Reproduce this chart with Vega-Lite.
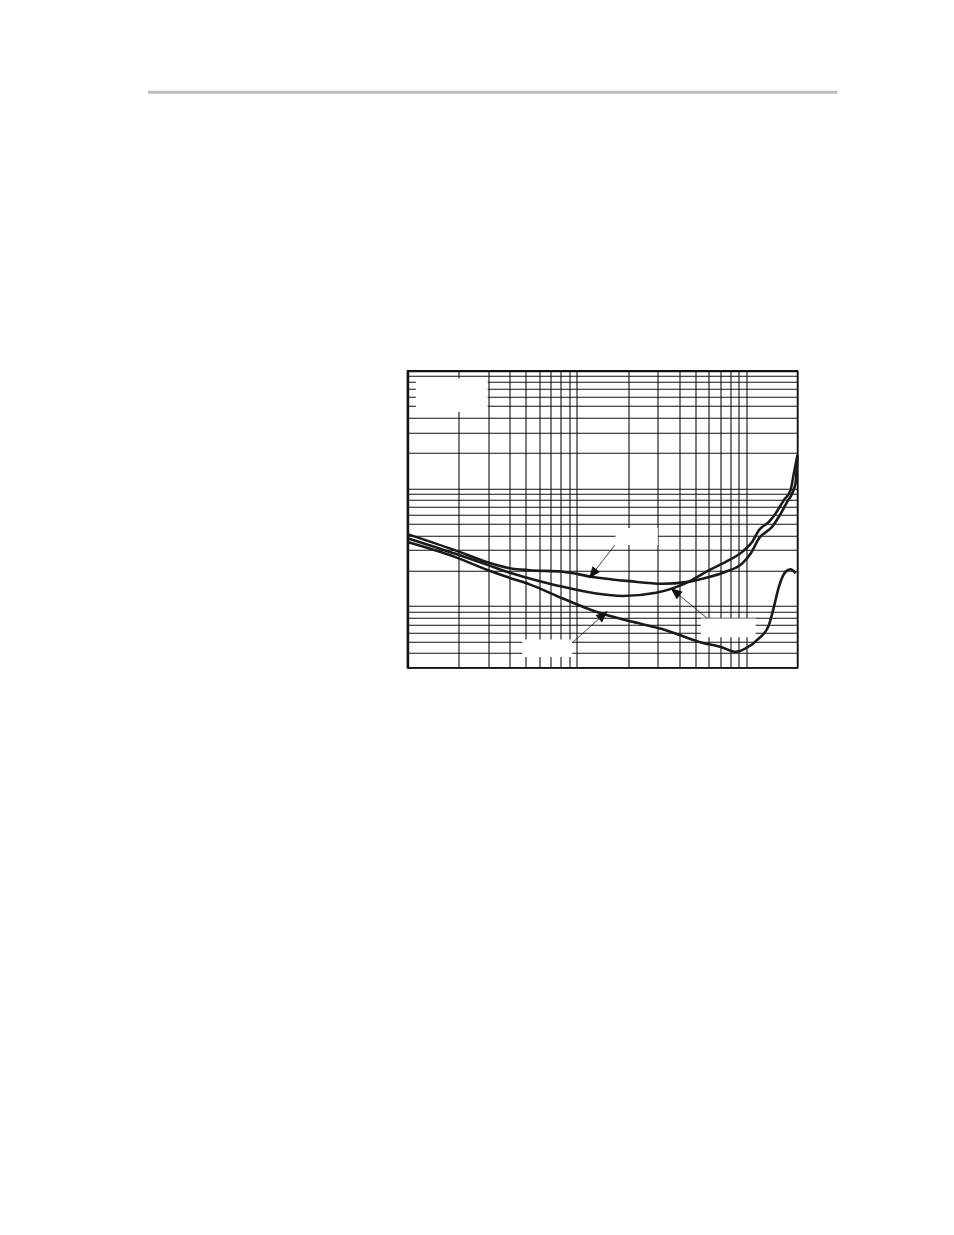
{
  "$schema": "https://vega.github.io/schema/vega-lite/v6.json",
  "autosize": {"type": "none"},
  "padding": {"left": 407.5, "top": 370.7, "right": 156.5, "bottom": 567},
  "width": 390,
  "height": 297,
  "background": "white",
  "view": {"stroke": "#111111", "strokeWidth": 1.5},
  "datasets": {
    "curves": [
      {"s": "A", "f": 100, "v": 0.0409},
      {"s": "A", "f": 190, "v": 0.0299},
      {"s": "A", "f": 299, "v": 0.0235},
      {"s": "A", "f": 410, "v": 0.0209},
      {"s": "A", "f": 525, "v": 0.0202},
      {"s": "A", "f": 825, "v": 0.0196},
      {"s": "A", "f": 1238, "v": 0.0177},
      {"s": "A", "f": 2036, "v": 0.0163},
      {"s": "A", "f": 3200, "v": 0.0155},
      {"s": "A", "f": 4389, "v": 0.0160},
      {"s": "A", "f": 6017, "v": 0.0177},
      {"s": "A", "f": 7543, "v": 0.0196},
      {"s": "A", "f": 9447, "v": 0.0231},
      {"s": "A", "f": 10590, "v": 0.0280},
      {"s": "A", "f": 11840, "v": 0.0376},
      {"s": "A", "f": 14180, "v": 0.0472},
      {"s": "A", "f": 15530, "v": 0.0574},
      {"s": "A", "f": 17380, "v": 0.0769},
      {"s": "A", "f": 18600, "v": 0.0907},
      {"s": "A", "f": 19480, "v": 0.1109},
      {"s": "A", "f": 20000, "v": 0.190},
      {"s": "B", "f": 100, "v": 0.0378},
      {"s": "B", "f": 190, "v": 0.0280},
      {"s": "B", "f": 299, "v": 0.0223},
      {"s": "B", "f": 410, "v": 0.0190},
      {"s": "B", "f": 525, "v": 0.0172},
      {"s": "B", "f": 825, "v": 0.0146},
      {"s": "B", "f": 1297, "v": 0.0128},
      {"s": "B", "f": 1860, "v": 0.0122},
      {"s": "B", "f": 2924, "v": 0.0130},
      {"s": "B", "f": 4389, "v": 0.0157},
      {"s": "B", "f": 6017, "v": 0.0202},
      {"s": "B", "f": 7543, "v": 0.0238},
      {"s": "B", "f": 9447, "v": 0.0289},
      {"s": "B", "f": 10820, "v": 0.0352},
      {"s": "B", "f": 11840, "v": 0.0442},
      {"s": "B", "f": 13560, "v": 0.0520},
      {"s": "B", "f": 14850, "v": 0.0613},
      {"s": "B", "f": 16620, "v": 0.0796},
      {"s": "B", "f": 18200, "v": 0.0967},
      {"s": "B", "f": 19030, "v": 0.1341},
      {"s": "B", "f": 20000, "v": 0.192},
      {"s": "C", "f": 100, "v": 0.0350},
      {"s": "C", "f": 190, "v": 0.0262},
      {"s": "C", "f": 299, "v": 0.0202},
      {"s": "C", "f": 410, "v": 0.0172},
      {"s": "C", "f": 525, "v": 0.0153},
      {"s": "C", "f": 825, "v": 0.0116},
      {"s": "C", "f": 1297, "v": 0.00895},
      {"s": "C", "f": 2129, "v": 0.00736},
      {"s": "C", "f": 3347, "v": 0.00625},
      {"s": "C", "f": 5254, "v": 0.00497},
      {"s": "C", "f": 7203, "v": 0.00446},
      {"s": "C", "f": 8640, "v": 0.00409},
      {"s": "C", "f": 9892, "v": 0.00437},
      {"s": "C", "f": 11840, "v": 0.00532},
      {"s": "C", "f": 13560, "v": 0.00690},
      {"s": "C", "f": 14510, "v": 0.00986},
      {"s": "C", "f": 15530, "v": 0.0146},
      {"s": "C", "f": 17010, "v": 0.0196},
      {"s": "C", "f": 18200, "v": 0.0206},
      {"s": "C", "f": 19480, "v": 0.0190}
    ],
    "boxes": [
      {"f1": 112, "f2": 297, "v1": 0.86, "v2": 0.445},
      {"f1": 1685, "f2": 3000, "v1": 0.046, "v2": 0.033},
      {"f1": 476, "f2": 937, "v1": 0.0052, "v2": 0.0037},
      {"f1": 5378, "f2": 11325, "v1": 0.00786, "v2": 0.00545}
    ],
    "arrows": [
      {"f1": 1673, "v1": 0.0330, "f2": 1236, "v2": 0.01885, "ang": 218},
      {"f1": 937, "v1": 0.00488, "f2": 1428, "v2": 0.00842, "ang": 48},
      {"f1": 5880, "v1": 0.00786, "f2": 3792, "v2": 0.01323, "ang": 309}
    ],
    "header": [
      {"f1": 2.944, "f2": 34335, "v": 232.3}
    ]
  },
  "layer": [
    {
      "data": {"name": "boxes"},
      "mark": {"type": "rect", "fill": "white", "stroke": null},
      "encoding": {
        "x": {
          "field": "f1", "type": "quantitative",
          "scale": {"type": "log", "domain": [100, 20000], "nice": false},
          "axis": {
            "orient": "top",
            "values": [100, 200, 300, 400, 500, 600, 700, 800, 900, 1000, 2000, 3000, 4000, 5000, 6000, 7000, 8000, 9000, 10000, 20000],
            "grid": true, "gridColor": "#111111", "gridWidth": 1.1, "gridOpacity": 1,
            "labels": false, "ticks": false, "title": null,
            "domain": true, "domainColor": "#111111", "domainWidth": 2
          }
        },
        "x2": {"field": "f2"},
        "y": {
          "field": "v1", "type": "quantitative",
          "scale": {"type": "log", "domain": [0.003, 1], "nice": false},
          "axis": {
            "values": [0.003, 0.004, 0.005, 0.006, 0.007, 0.008, 0.009, 0.01, 0.02, 0.03, 0.04, 0.05, 0.06, 0.07, 0.08, 0.09, 0.1, 0.2, 0.3, 0.4, 0.5, 0.6, 0.7, 0.8, 0.9, 1],
            "grid": true, "gridColor": "#111111", "gridWidth": 1.1, "gridOpacity": 1,
            "labels": false, "ticks": false, "title": null,
            "domain": true, "domainColor": "#111111", "domainWidth": 2.4
          }
        },
        "y2": {"field": "v2"}
      }
    },
    {
      "data": {"name": "curves"},
      "mark": {"type": "line", "color": "#1a1a1a", "strokeWidth": 2.6, "interpolate": "monotone"},
      "encoding": {
        "x": {"field": "f", "type": "quantitative"},
        "y": {"field": "v", "type": "quantitative"},
        "detail": {"field": "s"}
      }
    },
    {
      "data": {"name": "arrows"},
      "mark": {"type": "rule", "color": "#111111", "strokeWidth": 0.8},
      "encoding": {
        "x": {"field": "f1", "type": "quantitative"},
        "y": {"field": "v1", "type": "quantitative"},
        "x2": {"field": "f2"},
        "y2": {"field": "v2"}
      }
    },
    {
      "data": {"name": "arrows"},
      "mark": {"type": "point", "filled": true, "shape": "M0,-1L0.8,1L-0.8,1Z", "size": 140, "color": "#111111", "opacity": 1, "strokeWidth": 0},
      "encoding": {
        "x": {"field": "f2", "type": "quantitative"},
        "y": {"field": "v2", "type": "quantitative"},
        "angle": {"field": "ang", "type": "quantitative", "scale": null}
      }
    },
    {
      "data": {"name": "header"},
      "mark": {"type": "rule", "color": "#bbbbbb", "strokeWidth": 3, "clip": false},
      "encoding": {
        "x": {"field": "f1", "type": "quantitative"},
        "x2": {"field": "f2"},
        "y": {"field": "v", "type": "quantitative"}
      }
    }
  ]
}
